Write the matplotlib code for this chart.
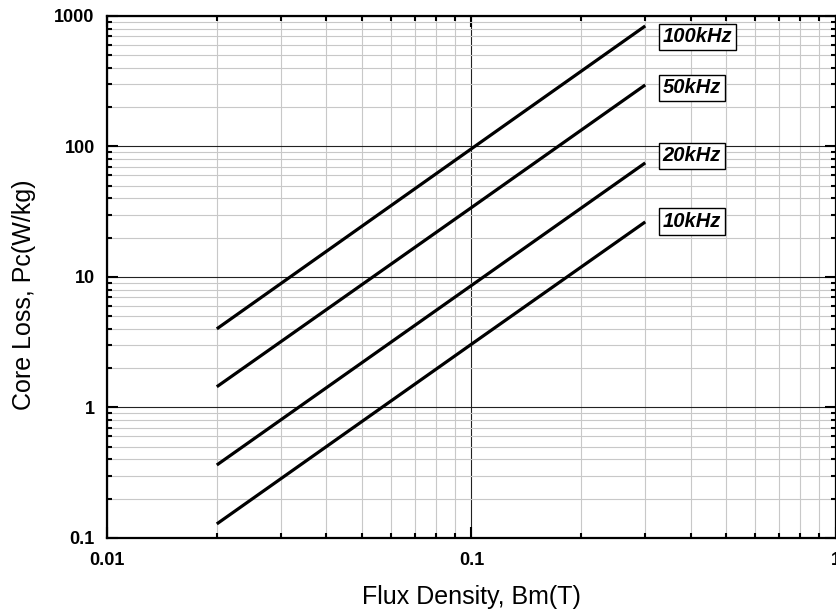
import matplotlib
matplotlib.use("Agg")
import matplotlib.pyplot as plt
from matplotlib.ticker import LogLocator, FixedLocator, FixedFormatter, NullFormatter

plt.rcParams['font.family'] = ['Liberation Sans', 'DejaVu Sans']

# Data
flux = [0.02, 0.1, 0.3]
series_labels = ['100kHz', '50kHz', '20kHz', '10kHz']
loss_100k = [4.0, 96.0, 838.0]
loss_50k = [1.44, 34.0, 296.0]
loss_20k = [0.362, 8.6, 74.8]
loss_10k = [0.128, 3.05, 26.4]
label_pos_y = [690, 281, 85, 26.6]

xticks = [0.01, 0.1, 1]
xticklabels = ['0.01', '0.1', '1']
yticks = [0.1, 1, 10, 100, 1000]
yticklabels = ['0.1', '1', '10', '100', '1000']

fig = plt.figure(figsize=(8.37, 6.13), dpi=100)
ax = fig.add_axes([0.128, 0.1225, 0.8705, 0.8515])
ax.set_xscale('log')
ax.set_yscale('log')
ax.set_xlim(0.01, 1)
ax.set_ylim(0.1, 1000)

for s in [loss_100k, loss_50k, loss_20k, loss_10k]:
    ax.plot(flux, s, color='black', lw=2.3, solid_capstyle='butt', zorder=3)

for lab, yy in zip(series_labels, label_pos_y):
    ax.text(0.335, yy, lab, fontsize=14.5, fontweight='bold', fontstyle='italic',
            va='center', ha='left', zorder=4,
            bbox=dict(boxstyle='square,pad=0.18', fc='white', ec='black', lw=1.0))

ax.xaxis.set_major_locator(FixedLocator(xticks))
ax.xaxis.set_major_formatter(FixedFormatter(xticklabels))
ax.yaxis.set_major_locator(FixedLocator(yticks))
ax.yaxis.set_major_formatter(FixedFormatter(yticklabels))
ax.xaxis.set_minor_locator(LogLocator(base=10, subs=range(2, 10)))
ax.yaxis.set_minor_locator(LogLocator(base=10, subs=range(2, 10)))
ax.xaxis.set_minor_formatter(NullFormatter())
ax.yaxis.set_minor_formatter(NullFormatter())

ax.grid(which='major', color='#222222', lw=0.8, zorder=1)
ax.grid(which='minor', color='#c8c8c8', lw=0.8, zorder=0)
ax.set_axisbelow(True)

ax.tick_params(which='both', direction='in', top=True, right=True, width=1.5)
ax.tick_params(which='major', length=8, labelsize=13)
ax.tick_params(axis='x', which='major', pad=10)
ax.tick_params(axis='y', which='major', pad=9)
ax.tick_params(which='minor', length=3.3)
for lab in ax.get_xticklabels() + ax.get_yticklabels():
    lab.set_fontweight('bold')
for sp in ax.spines.values():
    sp.set_linewidth(1.6)

ax.set_xlabel('Flux Density, Bm(T)', fontsize=18, labelpad=12)
ax.set_ylabel('Core Loss, Pc(W/kg)', fontsize=18)
ax.yaxis.set_label_coords(-0.098, 0.465)

fig.savefig('out.png', dpi=100)
